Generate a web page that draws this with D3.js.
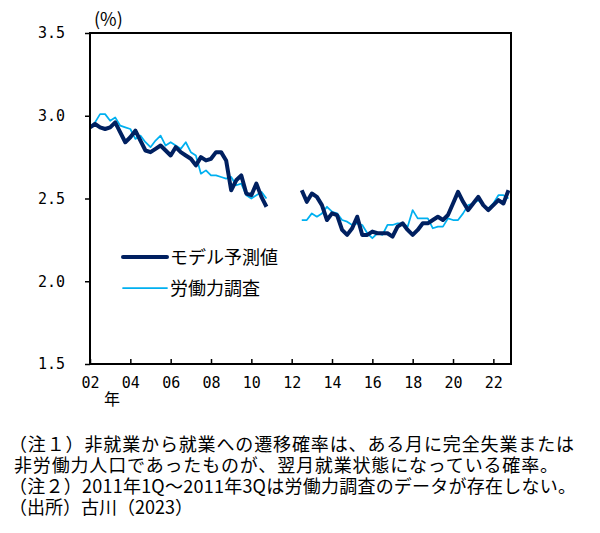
<!DOCTYPE html>
<html>
<head>
<meta charset="utf-8">
<script src="https://cdn.jsdelivr.net/npm/d3@7"></script>
<style>
  body { margin: 0; background: #fff; }
  text { font-family: "Noto Sans CJK JP", sans-serif; fill: #000; }
  .num text, text.num { font-family: "DejaVu Sans Mono", monospace; font-size: 15px; }
</style>
</head>
<body>
<div id="chart"></div>
<script>
// quarters 2002Q1 .. 2022Q4
const years = d3.range(2002, 2023);
const quarters = years.flatMap(y => [1, 2, 3, 4].map(q => y + "Q" + q));

// model prediction (2011Q1-2012Q2 missing)
const modelValues = [
  2.93, 2.95, 2.93, 2.92, 2.93, 2.96, 2.90, 2.84, 2.87, 2.91, 2.85, 2.79,
  2.78, 2.80, 2.82, 2.79, 2.76, 2.81, 2.78, 2.76, 2.74, 2.70, 2.75, 2.73,
  2.74, 2.78, 2.78, 2.73, 2.55, 2.61, 2.64, 2.53, 2.52, 2.59, 2.51, 2.45,
  null, null, null, null, null, null,
  2.55, 2.48, 2.53, 2.51, 2.46, 2.37, 2.41, 2.40, 2.31, 2.28, 2.32, 2.39,
  2.28, 2.28, 2.30, 2.29, 2.29, 2.29, 2.27, 2.33, 2.35, 2.31, 2.28, 2.31,
  2.35, 2.35, 2.37, 2.39, 2.37, 2.40, 2.47, 2.54, 2.48, 2.43, 2.47, 2.51,
  2.46, 2.43, 2.46, 2.49, 2.47, 2.55
];

// labour force survey
const surveyValues = [
  2.93, 2.96, 3.01, 3.01, 2.97, 2.99, 2.94, 2.93, 2.92, 2.86, 2.88, 2.84,
  2.81, 2.85, 2.88, 2.82, 2.84, 2.82, 2.80, 2.84, 2.78, 2.76, 2.65, 2.67,
  2.64, 2.64, 2.63, 2.62, 2.63, 2.58, 2.59, 2.52, 2.50, 2.52, 2.54, 2.50,
  null, null, null, null, null, null,
  2.37, 2.37, 2.41, 2.39, 2.41, 2.45, 2.42, 2.41, 2.37, 2.36, 2.34, 2.35,
  2.34, 2.29, 2.26, 2.29, 2.28, 2.34, 2.34, 2.35, 2.35, 2.33, 2.43, 2.38,
  2.38, 2.38, 2.32, 2.33, 2.33, 2.38, 2.37, 2.37, 2.41, 2.46, 2.47, 2.49,
  2.46, 2.44, 2.47, 2.52, 2.52, 2.50
];

const yTicks = [1.5, 2.0, 2.5, 3.0, 3.5];
const xTickLabels = ["02", "04", "06", "08", "10", "12", "14", "16", "18", "20", "22"];
const seriesNames = ["モデル予測値", "労働力調査"];
const notes = [
  "（注１）非就業から就業への遷移確率は、ある月に完全失業または",
  "非労働力人口であったものが、翌月就業状態になっている確率。",
  "（注２）2011年1Q～2011年3Qは労働力調査のデータが存在しない。",
  "（出所）古川（2023）"
];

const width = 600, height = 533;
const plotLeft = 90, plotRight = 511, plotTop = 33, plotBottom = 364;

const svg = d3.select("#chart").append("svg")
    .attr("width", width)
    .attr("height", height);

svg.append("rect").attr("width", width).attr("height", height).attr("fill", "#fff");

const x = d3.scaleLinear().domain([0, 83.5]).range([plotLeft, plotRight]);
const y = d3.scaleLinear().domain([1.5, 3.5]).range([plotBottom, plotTop]);

// y axis, ticks pointing out
const yAxis = svg.append("g")
    .attr("class", "num")
    .attr("transform", `translate(${plotLeft},0)`)
    .call(d3.axisLeft(y).tickValues(yTicks).tickFormat(d3.format(".1f"))
        .tickSize(5).tickPadding(20));
yAxis.select(".domain").remove();
yAxis.selectAll(".tick line").attr("stroke", "#000").attr("stroke-width", 1.5);

// x axis, ticks pointing in
const xAxis = svg.append("g")
    .attr("class", "num")
    .attr("transform", `translate(0,${plotBottom})`)
    .call(d3.axisBottom(x).tickValues(xTickLabels.map((d, i) => i * 8))
        .tickFormat((d, i) => xTickLabels[i])
        .tickSize(-5).tickPadding(13));
xAxis.select(".domain").remove();
xAxis.selectAll(".tick line").attr("stroke", "#000").attr("stroke-width", 1.5);

// lines
const line = d3.line()
    .defined(d => d != null)
    .x((d, i) => x(i))
    .y(d => y(d));

svg.append("path")
    .datum(surveyValues)
    .attr("fill", "none")
    .attr("stroke", "#00b0f0")
    .attr("stroke-width", 1.75)
    .attr("stroke-linejoin", "round")
    .attr("d", line);

svg.append("path")
    .datum(modelValues)
    .attr("fill", "none")
    .attr("stroke", "#002060")
    .attr("stroke-width", 4)
    .attr("stroke-linejoin", "round")
    .attr("d", line);

// frame
svg.append("rect")
    .attr("x", plotLeft).attr("y", plotTop)
    .attr("width", plotRight - plotLeft).attr("height", plotBottom - plotTop)
    .attr("fill", "none")
    .attr("stroke", "#000")
    .attr("stroke-width", 2);

// unit and year labels
svg.append("text").attr("x", 94).attr("y", 26).style("font-size", "18px").text("(%)");
svg.append("text").attr("x", 104).attr("y", 405).style("font-size", "16px").text("年");

// legend
const legend = svg.append("g");
const legendStyle = [
  { color: "#002060", w: 4 },
  { color: "#00b0f0", w: 1.75 }
];
seriesNames.forEach((name, i) => {
  const ly = 257 + i * 31;
  legend.append("line")
      .attr("x1", 123).attr("x2", 167)
      .attr("y1", ly).attr("y2", ly)
      .attr("stroke", legendStyle[i].color)
      .attr("stroke-width", legendStyle[i].w)
      .attr("stroke-linecap", "round");
  legend.append("text")
      .attr("x", 170).attr("y", ly + 6.5)
      .style("font-size", "18px")
      .text(name);
});

// notes
const noteX = [9, 14, 9, 9];
const noteY = [451, 472, 493, 514];
const noteLen = [565, 544, 567, null];
notes.forEach((t, i) => {
  const tx = svg.append("text")
      .attr("x", noteX[i]).attr("y", noteY[i])
      .style("font-size", "18px")
      .text(t);
  if (noteLen[i]) tx.attr("textLength", noteLen[i]);
});
</script>
</body>
</html>
